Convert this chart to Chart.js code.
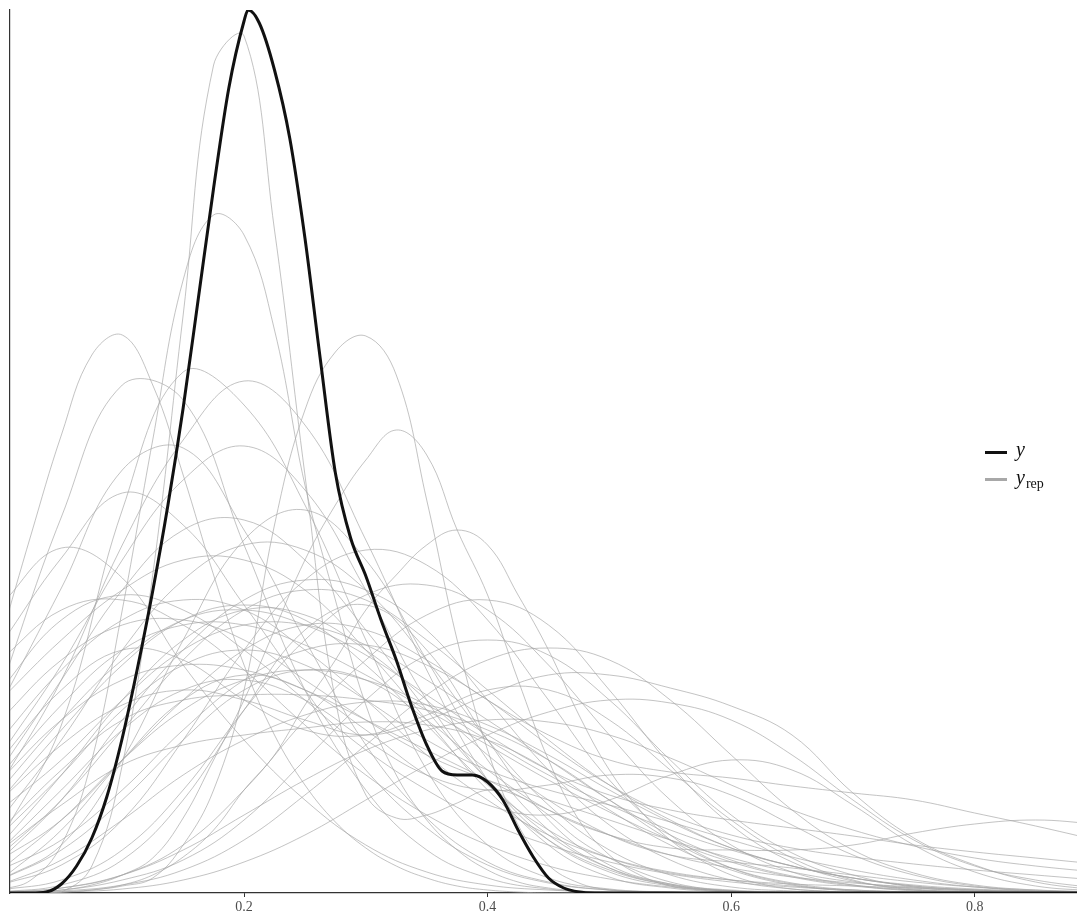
<!DOCTYPE html>
<html>
<head>
<meta charset="utf-8">
<script src="https://cdn.jsdelivr.net/npm/chart.js@4.4.1/dist/chart.umd.min.js"></script>
<style>
  html, body { margin: 0; padding: 0; background: #fff; }
  #wrap { position: relative; width: 1077px; height: 915px; }
  #legend { position: absolute; left: 0; top: 0; font-family: "Liberation Serif", "DejaVu Serif", serif; color: #111; }
  .key { position: absolute; width: 22px; height: 3px; }
  .lab { position: absolute; font-style: italic; font-size: 20px; line-height: 20px; }
  .lab sub { font-style: normal; font-size: 14px; vertical-align: -4px; margin-left: 1px; }
</style>
</head>
<body>
<div id="wrap">
  <canvas id="chart" width="1077" height="915"></canvas>
  <div id="legend">
    <div class="key" style="left:985px; top:451px; background:#111;"></div>
    <div class="lab" style="left:1016px; top:439px;">y</div>
    <div class="key" style="left:985px; top:478px; background:#a8a8a8;"></div>
    <div class="lab" style="left:1016px; top:467px;">y<sub>rep</sub></div>
  </div>
</div>
<script>
// grids (x values) on which the densities were read
const xBlack = [0, 0.0125, 0.025, 0.0375, 0.05, 0.0625, 0.075, 0.0875, 0.1, 0.1125, 0.125, 0.1375, 0.15, 0.1625, 0.175, 0.1875,
  0.2, 0.2033, 0.2125, 0.225, 0.2375, 0.25, 0.2625, 0.275, 0.2875, 0.3, 0.3125, 0.325, 0.3375, 0.35, 0.3625, 0.375, 0.3875,
  0.4, 0.4125, 0.425, 0.4375, 0.45, 0.4625, 0.475, 0.4875, 0.5, 0.6, 0.7, 0.8, 0.9];
const xFine = [0, 0.025, 0.05, 0.075, 0.1, 0.125, 0.15, 0.175, 0.2, 0.225, 0.25, 0.275, 0.3, 0.325, 0.35, 0.375, 0.4, 0.425,
  0.45, 0.475, 0.5, 0.525, 0.55, 0.575, 0.6, 0.625, 0.65, 0.675, 0.7, 0.725, 0.75, 0.775, 0.8, 0.825, 0.85, 0.875, 0.9];
const xCoarse = [0, 0.05, 0.1, 0.15, 0.2, 0.25, 0.3, 0.35, 0.4, 0.45, 0.5, 0.55, 0.6, 0.65, 0.7, 0.75, 0.8, 0.85, 0.9];

const xTicks = [0.2, 0.4, 0.6, 0.8];

// observed data density (y)
const yDens = [0, 0, 0, 0.01, 0.09, 0.27, 0.55, 0.97, 1.55, 2.25, 3.02, 3.88, 4.85, 5.95, 7.05, 8.05,
  8.72, 8.83, 8.70, 8.23, 7.55, 6.55, 5.35, 4.20, 3.55, 3.17, 2.73, 2.33, 1.87, 1.48, 1.22, 1.18, 1.18,
  1.11, 0.93, 0.63, 0.36, 0.15, 0.05, 0.01, 0, 0, 0, 0, 0, 0];

// replicated densities (yrep) read on the fine grid
const repFine = [
  [0, 0, 0.01, 0.27, 1.28, 3.18, 5.78, 8.28, 8.57, 6.63, 4.18, 1.93, 0.98, 0.75, 0.78, 0.90, 1.03, 0.97, 0.78, 0.53, 0.35, 0.21, 0.11, 0.05, 0.02],
  [0.03, 0.13, 0.48, 1.33, 2.83, 4.53, 6.13, 6.78, 6.58, 5.63, 4.08, 2.93, 1.88, 1.18, 0.73, 0.43, 0.23, 0.11, 0.05, 0.02],
  [2.53, 3.58, 4.58, 5.38, 5.58, 5.08, 4.18, 3.18, 2.28, 1.58, 1.08, 0.71, 0.45, 0.27, 0.15, 0.07, 0.03, 0.01],
  [0, 0, 0.01, 0.03, 0.07, 0.15, 0.48, 1.03, 2.03, 3.68, 4.83, 5.41, 5.57, 5.18, 3.93, 2.53, 1.43, 0.68, 0.28, 0.10, 0.03, 0.01],
  [0, 0.01, 0.03, 0.08, 0.18, 0.35, 0.75, 1.33, 1.93, 2.63, 3.33, 3.88, 4.33, 4.63, 4.38, 3.63, 2.98, 2.13, 1.33, 0.73, 0.38, 0.18, 0.07, 0.03, 0.01],
  [0, 0, 0.01, 0.03, 0.08, 0.18, 0.36, 0.63, 1.03, 1.38, 1.88, 2.33, 2.83, 3.18, 3.48, 3.63, 3.48, 2.98, 2.43, 1.78, 1.23, 0.83, 0.53, 0.33, 0.18, 0.09, 0.04, 0.02]
];

// replicated densities (yrep) read on the coarse grid
const repCoarse = [
  [2.03, 3.76, 5.08, 4.93, 3.48, 2.03, 1.03, 0.43, 0.15, 0.04, 0.01],
  [0.53, 1.68, 3.83, 5.21, 4.88, 3.88, 2.53, 1.23, 0.48, 0.15, 0.04, 0.01],
  [1.08, 2.13, 3.48, 4.53, 5.12, 4.68, 3.53, 2.23, 1.13, 0.48, 0.16, 0.05, 0.01],
  [1.38, 2.28, 3.33, 4.13, 4.47, 4.03, 3.03, 1.93, 1.13, 0.53, 0.21, 0.07, 0.02],
  [1.88, 3.05, 4.23, 4.45, 3.63, 2.53, 1.48, 0.75, 0.31, 0.11, 0.03, 0.01],
  [2.48, 3.35, 4.00, 3.68, 2.88, 2.03, 1.23, 0.65, 0.28, 0.10, 0.03, 0.01],
  [2.88, 3.45, 3.15, 2.28, 1.53, 0.93, 0.48, 0.21, 0.08, 0.03, 0.01],
  [1.23, 2.13, 3.03, 3.63, 3.73, 3.33, 2.63, 1.83, 1.13, 0.58, 0.25, 0.09, 0.03, 0.01],
  [0.73, 1.53, 2.43, 3.13, 3.48, 3.43, 3.03, 2.33, 1.53, 0.88, 0.43, 0.18, 0.06, 0.02],
  [1.93, 2.53, 3.03, 3.33, 3.33, 3.03, 2.43, 1.73, 1.03, 0.53, 0.23, 0.08, 0.02],
  [0.33, 0.93, 1.73, 2.43, 2.93, 3.13, 3.03, 2.63, 1.93, 1.23, 0.68, 0.33, 0.13, 0.04, 0.01],
  [0.63, 1.23, 1.73, 1.93, 1.98, 1.98, 1.93, 1.83, 1.63, 1.33, 0.93, 0.53, 0.25, 0.10, 0.03, 0.01],
  [0.43, 0.88, 1.28, 1.48, 1.58, 1.65, 1.71, 1.68, 1.53, 1.23, 0.83, 0.48, 0.23, 0.08, 0.02],
  [0.93, 1.48, 1.88, 2.03, 1.93, 1.73, 1.58, 1.73, 1.98, 2.18, 2.18, 2.05, 1.87, 1.58, 1.00, 0.55, 0.28, 0.11, 0.03],
  [0.33, 0.73, 1.33, 1.93, 2.43, 2.68, 2.63, 2.33, 1.93, 1.58, 1.33, 1.21, 1.15, 1.07, 1.00, 0.93, 0.80, 0.67, 0.53],
  [0.13, 0.43, 0.93, 1.53, 2.03, 2.23, 2.13, 1.73, 1.23, 0.83, 0.58, 0.45, 0.43, 0.43, 0.48, 0.60, 0.69, 0.73, 0.69],
  [1.03, 1.73, 2.33, 2.73, 2.83, 2.68, 2.38, 1.98, 1.58, 1.23, 0.98, 0.83, 0.73, 0.65, 0.57, 0.48, 0.41, 0.35, 0.29],
  [0.23, 0.53, 1.03, 1.63, 2.13, 2.43, 2.48, 2.28, 1.93, 1.48, 1.08, 0.78, 0.58, 0.45, 0.36, 0.29, 0.23, 0.18, 0.13],
  [0.03, 0.13, 0.43, 1.03, 1.83, 2.53, 2.98, 3.08, 2.83, 2.28, 1.58, 0.93, 0.48, 0.21, 0.08, 0.02],
  [0.08, 0.28, 0.73, 1.53, 2.43, 3.13, 3.43, 3.28, 2.73, 1.93, 1.13, 0.58, 0.25, 0.09, 0.02],
  [0.01, 0.05, 0.18, 0.48, 1.03, 1.73, 2.33, 2.78, 2.93, 2.68, 2.03, 1.28, 0.68, 0.31, 0.12, 0.04, 0.01],
  [0, 0.02, 0.08, 0.23, 0.53, 0.98, 1.48, 1.98, 2.33, 2.45, 2.33, 1.93, 1.38, 0.83, 0.43, 0.20, 0.08, 0.03, 0.01],
  [0, 0.01, 0.04, 0.13, 0.31, 0.58, 0.93, 1.28, 1.58, 1.81, 1.93, 1.90, 1.73, 1.38, 0.93, 0.53, 0.27, 0.13, 0.05],
  [2.03, 2.73, 2.98, 2.83, 2.43, 1.93, 1.43, 1.03, 0.71, 0.48, 0.31, 0.19, 0.11, 0.06, 0.03, 0.01],
  [1.53, 2.23, 2.73, 2.93, 2.83, 2.43, 1.93, 1.38, 0.93, 0.58, 0.35, 0.21, 0.13, 0.07, 0.03, 0.01],
  [0.23, 0.73, 1.33, 1.83, 2.13, 2.23, 2.13, 1.88, 1.53, 1.18, 0.88, 0.63, 0.43, 0.27, 0.15, 0.07, 0.03, 0.01],
  [0.83, 1.33, 1.93, 2.43, 2.68, 2.68, 2.48, 2.13, 1.73, 1.33, 0.93, 0.58, 0.33, 0.17, 0.08, 0.03, 0.01],
  [1.73, 2.33, 2.68, 2.73, 2.53, 2.13, 1.73, 1.38, 1.13, 0.93, 0.73, 0.53, 0.35, 0.21, 0.11, 0.05, 0.02],
  [1.33, 2.03, 2.43, 2.33, 1.93, 1.63, 1.58, 1.78, 2.03, 2.03, 1.73, 1.23, 0.73, 0.35, 0.13, 0.03, 0.01],
  [0.48, 1.18, 1.93, 2.53, 2.83, 2.78, 2.43, 1.93, 1.38, 0.93, 0.58, 0.38, 0.31, 0.25, 0.18, 0.11, 0.06, 0.03, 0.01],
  [2.33, 2.83, 2.93, 2.68, 2.23, 1.68, 1.18, 0.78, 0.48, 0.27, 0.14, 0.06, 0.02],
  [0.13, 0.48, 1.33, 2.53, 3.53, 3.83, 3.33, 2.33, 1.33, 0.63, 0.25, 0.08, 0.02],
  [0.38, 0.93, 1.63, 2.33, 2.83, 3.03, 2.93, 2.53, 2.03, 1.53, 1.08, 0.73, 0.45, 0.27, 0.15, 0.08, 0.04, 0.02, 0.01],
  [0.93, 1.63, 2.28, 2.73, 2.88, 2.73, 2.28, 1.68, 1.08, 0.63, 0.35, 0.20, 0.13, 0.09, 0.07, 0.05, 0.03, 0.02, 0.01],
  [1.18, 1.88, 2.43, 2.68, 2.68, 2.48, 2.18, 1.83, 1.48, 1.13, 0.81, 0.53, 0.31, 0.16, 0.07, 0.03, 0.01],
  [0.13, 0.63, 1.33, 1.93, 2.18, 2.03, 1.63, 1.18, 0.88, 0.78, 0.93, 1.18, 1.33, 1.23, 0.88, 0.48, 0.21, 0.07, 0.02],
  [0.58, 1.18, 1.83, 2.28, 2.43, 2.28, 1.93, 1.53, 1.23, 1.03, 0.88, 0.71, 0.53, 0.36, 0.23, 0.13, 0.06, 0.02, 0.01],
  [0, 0.03, 0.13, 0.33, 0.73, 1.33, 1.93, 2.38, 2.53, 2.38, 1.93, 1.33, 0.78, 0.40, 0.18, 0.06, 0.02],
  [1.13, 1.73, 2.13, 2.28, 2.23, 2.03, 1.73, 1.43, 1.13, 0.83, 0.58, 0.38, 0.25, 0.16, 0.10, 0.06, 0.03, 0.01],
  [0.08, 0.33, 0.73, 1.18, 1.53, 1.78, 1.91, 1.88, 1.68, 1.38, 1.03, 0.71, 0.45, 0.27, 0.15, 0.07, 0.03, 0.01],
  [0.43, 1.03, 1.63, 2.03, 2.13, 1.93, 1.53, 1.18, 1.03, 1.08, 1.18, 1.15, 0.98, 0.68, 0.38, 0.18, 0.07, 0.02],
  [0, 0.05, 0.18, 0.43, 0.78, 1.13, 1.43, 1.63, 1.73, 1.71, 1.58, 1.35, 1.08, 0.83, 0.63, 0.47, 0.35, 0.27, 0.21],
  [0.01, 0.08, 0.33, 0.93, 1.83, 2.63, 2.88, 2.43, 1.53, 0.73, 0.28, 0.09, 0.02]
];

const xMin = 0.0078, xMax = 0.884, yMax = 8.83;

// arrays shorter than their grid have reached zero density
const toPoints = (xs, vals) => xs.map((x, i) => ({ x: x, y: i < vals.length ? vals[i] : 0 }));

const greyLine = (pts) => ({
  data: pts,
  borderColor: "rgba(165,165,165,0.75)",
  borderWidth: 0.9,
  pointRadius: 0,
  tension: 0.4,
  fill: false
});

const datasets = [{
  label: "y",
  data: toPoints(xBlack, yDens),
  borderColor: "#111111",
  borderWidth: 3,
  pointRadius: 0,
  cubicInterpolationMode: "monotone",
  fill: false
}];
repFine.forEach(v => datasets.push(greyLine(toPoints(xFine, v))));
repCoarse.forEach(v => datasets.push(greyLine(toPoints(xCoarse, v))));

new Chart(document.getElementById("chart"), {
  type: "line",
  data: { datasets: datasets },
  options: {
    responsive: false,
    animation: false,
    events: [],
    layout: { padding: { left: 10, top: 10, right: 0, bottom: 0 } },
    plugins: { legend: { display: false }, tooltip: { enabled: false } },
    scales: {
      x: {
        type: "linear",
        min: xMin,
        max: xMax,
        afterBuildTicks: s => { s.ticks = xTicks.map(v => ({ value: v })); },
        afterFit: s => { s.height = 22; },
        grid: { display: true, drawOnChartArea: false, drawTicks: true, tickLength: 4, color: "#333" },
        border: { display: true, color: "#333", width: 1.2 },
        ticks: {
          padding: 2,
          color: "#4d4d4d",
          font: { family: "'Liberation Serif', serif", size: 14 },
          callback: v => v.toFixed(1),
          maxRotation: 0
        }
      },
      y: {
        type: "linear",
        min: 0,
        max: yMax,
        afterFit: s => { s.width = 0; },
        grid: { display: false, drawTicks: false },
        border: { display: true, color: "#333", width: 1.2 },
        ticks: { display: false }
      }
    }
  }
});
</script>
</body>
</html>
